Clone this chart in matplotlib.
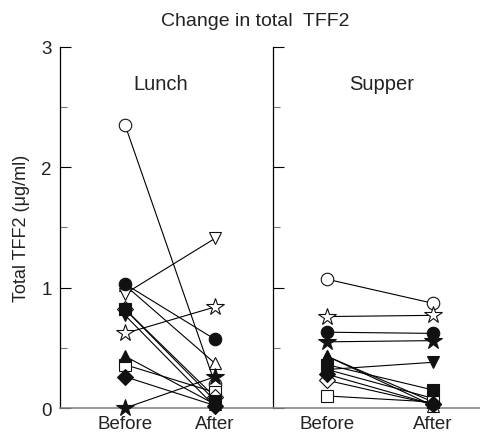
import matplotlib
matplotlib.use("Agg")
import matplotlib.pyplot as plt
from matplotlib.ticker import MultipleLocator

plt.rcParams['font.family'] = ['Liberation Sans', 'DejaVu Sans']

# one entry per subject: marker shape, filled or not
markers = ['o', 'o', '^', '^', 'v', 'v', 's', 's', 'D', 'D', '*', '*']
filled = [False, True, False, True, False, True, False, True, False, True, False, True]

lunch_before = [2.35, 1.03, 1.02, 0.43, 0.95, 0.77, 0.36, 0.82, 0.82, 0.26, 0.62, 0.00]
lunch_after = [0.20, 0.57, 0.37, 0.03, 1.41, 0.01, 0.13, 0.06, 0.09, 0.02, 0.84, 0.26]

supper_before = [1.07, 0.63, 0.43, 0.43, 0.32, 0.32, 0.10, 0.36, 0.23, 0.28, 0.76, 0.55]
supper_after = [0.87, 0.62, 0.02, 0.05, 0.08, 0.38, 0.05, 0.15, 0.03, 0.03, 0.77, 0.56]

xlabels = ['Before', 'After']
panels = ['Lunch', 'Supper']

fig = plt.figure(figsize=(4.8, 4.39), dpi=100)
ax1 = fig.add_axes([0.125, 0.0683, 0.442, 0.8224])
ax2 = fig.add_axes([0.569, 0.0683, 0.431, 0.8224])


def draw(ax, before, after, title, xlim, tx):
    for m, f, b, a in zip(markers, filled, before, after):
        ms = 13 if m == '*' else (8 if m == 'D' else 9)
        ax.plot([0, 1], [b, a], '-', color='black', lw=0.8, zorder=1)
        ax.plot([0, 1], [b, a], linestyle='none', marker=m, ms=ms,
                mfc='#111111' if f else 'white', mec='#111111', mew=0.8,
                zorder=4 if f else 3, clip_on=False)
    ax.set_xlim(*xlim)
    ax.set_ylim(0, 3)
    ax.set_xticks([0, 1])
    ax.set_xticklabels(xlabels, fontsize=13.5, color='#222222')
    ax.tick_params(axis='x', length=0, pad=5)
    ax.yaxis.set_major_locator(MultipleLocator(1))
    ax.yaxis.set_minor_locator(MultipleLocator(0.5))
    ax.tick_params(axis='y', which='major', direction='in', length=8, width=0.8)
    ax.tick_params(axis='y', which='minor', direction='in', length=5, width=0.8,
                   color='#777777')
    ax.spines['top'].set_visible(False)
    ax.spines['right'].set_visible(False)
    ax.spines['left'].set_linewidth(0.9)
    ax.spines['bottom'].set_color('#888888')
    ax.spines['bottom'].set_linewidth(1.2)
    ax.text(tx, 2.7, title, ha='center', va='center', fontsize=14.5, color='#222222')


draw(ax1, lunch_before, lunch_after, panels[0], (-0.724, 1.634), 0.39)
draw(ax2, supper_before, supper_after, panels[1], (-0.51, 1.443), 0.51)

ax1.set_yticks([0, 1, 2, 3])
ax1.set_yticklabels(['0', '1', '2', '3'], fontsize=13.5, color='#222222')
ax1.tick_params(axis='y', which='major', pad=6)
ax1.set_ylabel('Total TFF2 (\u03bcg/ml)', fontsize=13, color='#222222', labelpad=8)
ax2.set_yticklabels([])

fig.text(0.531, 0.952, 'Change in total  TFF2', ha='center', va='center',
         fontsize=14, color='#222222')

fig.savefig('out.png', dpi=100)
